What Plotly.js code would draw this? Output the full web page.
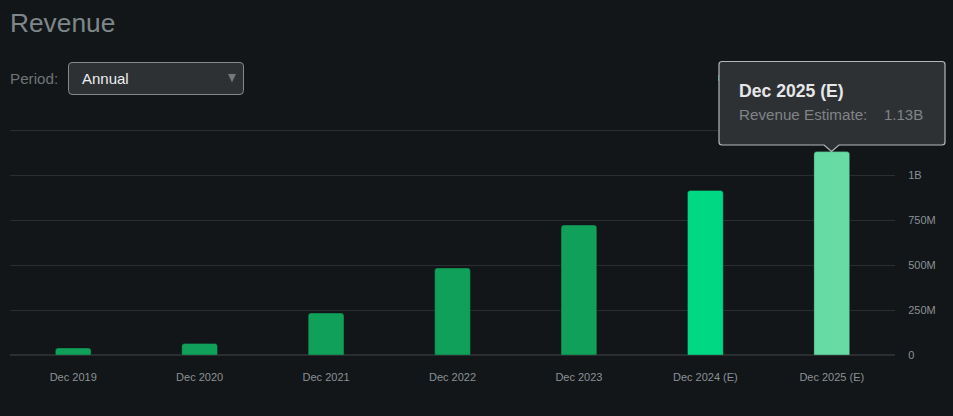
<!DOCTYPE html>
<html><head><meta charset="utf-8">
<script src="https://cdn.plot.ly/plotly-3.0.1.min.js"></script>
<style>html,body{margin:0;padding:0;background:#121619;overflow:hidden}#c{width:953px;height:416px}</style>
</head><body><div id="c"></div>
<script>
const categories = ['Dec 2019','Dec 2020','Dec 2021','Dec 2022','Dec 2023','Dec 2024 (E)','Dec 2025 (E)'];
const revenue = [39e6,64e6,233e6,483e6,722e6,914e6,1130e6];
const barColors = ['#10a05a','#10a05a','#10a05a','#10a05a','#10a05a','#00d884','#66dca4'];
const yTicks = [0,250e6,500e6,750e6,1e9,1.25e9];
const yTickLabels = ['0','250M','500M','750M','1B','1.25B'];
const yMax = 1.25e9*230/225;

const W=953,H=416,L=10,R=895,T=125,B=355;
const px=x=>(x-L)/(R-L), py=y=>(B-y)/(B-T);
function shapePath(d,fill,line,lw){
  return {type:'path',xref:'paper',yref:'paper',layer:'above',
    path:d.replace(/(-?[\d.]+),(-?[\d.]+)/g,(m,a,b)=>px(+a)+','+py(+b)),
    fillcolor:fill,line:{color:line,width:lw}};
}
function txt(x,y,text,size,color,anchor,weight){
  return {xref:'paper',yref:'paper',x:px(x),y:py(y),xanchor:anchor||'left',yanchor:'middle',showarrow:false,
    borderpad:0,text:weight?'<b>'+text+'</b>':text,font:{size:size,color:color,family:'Liberation Sans, Arial, sans-serif'}};
}
const selectBox='M72,62.5 L240,62.5 Q243.5,62.5 243.5,66 L243.5,90.5 Q243.5,94.5 240,94.5 L72,94.5 Q68.5,94.5 68.5,90.5 L68.5,66 Q68.5,62.5 72,62.5 Z';
const caret='M228,74 L236,74 L232,82.5 Z';
const sliver='M718,75 L720,75 L720,81 L718,81 Z';
const tip='M722,61.5 L942,61.5 Q945,61.5 945,64.5 L945,142 Q945,145 942,145 L839,145 L831.5,151.5 L824,145 L722,145 Q719,145 719,142 L719,64.5 Q719,61.5 722,61.5 Z';

Plotly.newPlot('c',[{
  type:'bar',x:categories,y:revenue,width:0.283,
  marker:{color:barColors,cornerradius:3,line:{color:'rgba(18,22,25,0.35)',width:1}},
  hoverinfo:'none'
}],{
  width:W,height:H,autosize:false,
  paper_bgcolor:'#121619',plot_bgcolor:'#121619',
  margin:{l:L,r:W-R,t:T,b:H-B,pad:0},
  showlegend:false,
  title:{text:'Revenue',x:10/W,xanchor:'left',y:1-23/H,yanchor:'middle',
    font:{size:26.3,color:'#7e8789',family:'Liberation Sans, Arial, sans-serif'}},
  xaxis:{type:'category',categoryorder:'array',categoryarray:categories,fixedrange:true,
    showgrid:false,zeroline:false,showline:false,
    ticks:'outside',ticklen:12,tickcolor:'rgba(0,0,0,0)',tickangle:0,
    tickfont:{size:11,color:'#8b9195',family:'Liberation Sans, Arial, sans-serif'}},
  yaxis:{side:'right',range:[0,yMax],fixedrange:true,tickmode:'array',tickvals:yTicks,ticktext:yTickLabels,
    showgrid:true,gridcolor:'#2a2e31',gridwidth:1,zeroline:true,zerolinecolor:'#2a2e31',zerolinewidth:2,showline:false,
    ticks:'outside',ticklen:10,tickcolor:'rgba(0,0,0,0)',
    tickfont:{size:11,color:'#8b9195',family:'Liberation Sans, Arial, sans-serif'}},
  shapes:[
    shapePath(sliver,'#10a05a','rgba(0,0,0,0)',0),
    shapePath(selectBox,'#2e3134','#85898c',1),
    shapePath(caret,'#74787b','rgba(0,0,0,0)',0),
    shapePath(tip,'#2e3134','#b4b7b9',1.2)
  ],
  annotations:[
    txt(9,78,'Period:',15.2,'#6f7475'),
    txt(81,78,'Annual',15,'#eceef0'),
    txt(738,91,'Dec 2025 (E)',17.6,'#e6e7e8','left',true),
    txt(738,114,'Revenue Estimate:',15.2,'#808487'),
    txt(924,114,'1.13B',15,'#808487','right')
  ]
},{displayModeBar:false,staticPlot:true});
</script></body></html>
